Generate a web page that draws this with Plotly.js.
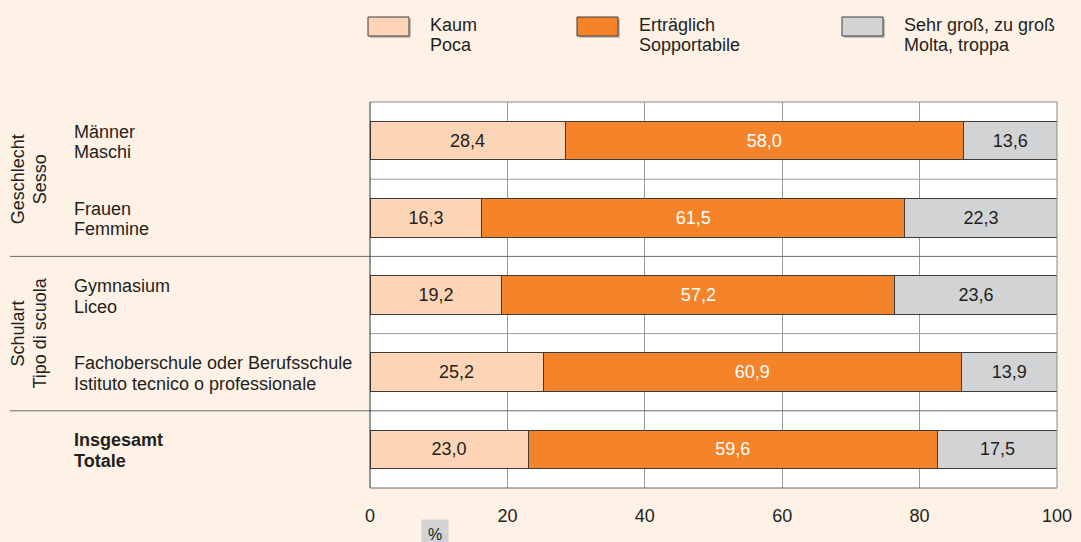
<!DOCTYPE html>
<html>
<head>
<meta charset="utf-8">
<script src="https://cdn.plot.ly/plotly-3.0.1.min.js"></script>
<style>
html,body{margin:0;padding:0;background:#fef1e6;}
#chart{width:1081px;height:542px;}
</style>
</head>
<body>
<div id="chart"></div>
<script>
// ---- data ----
var catDe = ['Männer', 'Frauen', 'Gymnasium', 'Fachoberschule oder Berufsschule', 'Insgesamt'];
var catIt = ['Maschi', 'Femmine', 'Liceo', 'Istituto tecnico o professionale', 'Totale'];
var catBold = [false, false, false, false, true];
var groupDe = ['Geschlecht', 'Schulart'];
var groupIt = ['Sesso', 'Tipo di scuola'];
var seriesDe = ['Kaum', 'Erträglich', 'Sehr groß, zu groß'];
var seriesIt = ['Poca', 'Sopportabile', 'Molta, troppa'];
var kaum = [28.4, 16.3, 19.2, 25.2, 23.0];
var ertraeglich = [58.0, 61.5, 57.2, 60.9, 59.6];
var sehrGross = [13.6, 22.3, 23.6, 13.9, 17.5];
var xTicks = [0, 20, 40, 60, 80, 100];
var unitLabel = '%';

// ---- styling ----
var colors = ['#fdd5b6', '#f5832a', '#d2d3d5'];
var textColors = ['#231f20', '#ffffff', '#231f20'];
var txt = '#231f20';
var FONT = '"Liberation Sans", Arial, Helvetica, sans-serif';

var W = 1081, H = 542;
var L = 370, R = 1057, T = 102, B = 488;
function px(x) { return (x - L) / (R - L); }
function py(y) { return (B - y) / (B - T); }

var idx = catDe.map(function (_, i) { return i; });
var values = [kaum, ertraeglich, sehrGross];

var traces = values.map(function (v, s) {
  return {
    type: 'bar',
    orientation: 'h',
    y: idx,
    x: v,
    name: seriesDe[s] + ' / ' + seriesIt[s],
    width: 0.5,
    marker: { color: colors[s], line: { color: '#3c3c3c', width: 1 } },
    texttemplate: '%{x:.1f}',
    textposition: 'inside',
    insidetextanchor: 'middle',
    constraintext: 'none',
    textfont: { family: FONT, size: 18, color: textColors[s] },
    hoverinfo: 'skip',
    showlegend: false
  };
});

var shapes = [];
var annotations = [];

// horizontal slot lines
for (var k = 0; k < catDe.length - 1; k++) {
  var yb = k + 0.5;
  var isGroupSep = (k === 1 || k === 3);
  shapes.push({
    type: 'line', xref: 'paper', yref: 'y',
    x0: isGroupSep ? px(10) : 0, x1: 1, y0: yb, y1: yb,
    line: { color: isGroupSep ? '#6a6a6a' : '#9a9a9a', width: 1 },
    layer: 'above'
  });
}
// frame
shapes.push({ type: 'line', xref: 'paper', yref: 'paper', x0: 0, x1: 1, y0: 1, y1: 1, line: { color: '#8a8a8a', width: 1 } });
shapes.push({ type: 'line', xref: 'paper', yref: 'paper', x0: 0, x1: 1, y0: 0, y1: 0, line: { color: '#6a6a6a', width: 1 } });
shapes.push({ type: 'line', xref: 'paper', yref: 'paper', x0: 1, x1: 1, y0: 0, y1: 1, line: { color: '#8a8a8a', width: 1 } });
shapes.push({ type: 'line', xref: 'paper', yref: 'paper', x0: 0, x1: 0, y0: 0, y1: 1, line: { color: '#333333', width: 1 } });

// category labels (one annotation per line for tight line spacing)
catDe.forEach(function (c, i) {
  var lines = [c, catIt[i]];
  var shifts = [9, -11.5];
  lines.forEach(function (ln, j) {
    annotations.push({
      xref: 'paper', yref: 'y', x: px(72), y: i, yshift: shifts[j],
      xanchor: 'left', yanchor: 'middle', align: 'left',
      text: catBold[i] ? '<b>' + ln + '</b>' : ln, showarrow: false,
      font: { family: FONT, size: 18, color: txt }
    });
  });
});

// group labels (rotated)
var groupCenters = [0.5, 2.5];
groupDe.forEach(function (g, i) {
  var lines = [g, groupIt[i]];
  var xs = [18, 40];
  lines.forEach(function (ln, j) {
    annotations.push({
      xref: 'paper', yref: 'y', x: px(xs[j]), y: groupCenters[i],
      xanchor: 'center', yanchor: 'middle', align: 'center',
      text: ln, textangle: -90, showarrow: false,
      font: { family: FONT, size: 18, color: txt }
    });
  });
});

// legend (manual)
var legX = [368, 577, 842];
seriesDe.forEach(function (s, i) {
  var x0 = legX[i], x1 = legX[i] + 41, y0 = 17, y1 = 36;
  shapes.push({ type: 'rect', xref: 'paper', yref: 'paper',
    x0: px(x0 + 2), x1: px(x1 + 2), y0: py(y1 + 2), y1: py(y0 + 2),
    fillcolor: '#a09a94', line: { width: 0 }, opacity: 0.6 });
  shapes.push({ type: 'rect', xref: 'paper', yref: 'paper',
    x0: px(x0), x1: px(x1), y0: py(y1), y1: py(y0),
    fillcolor: colors[i], line: { color: '#3c3c3c', width: 1 } });
  var lines = [s, seriesIt[i]];
  var ys = [25, 45];
  lines.forEach(function (ln, j) {
    annotations.push({
      xref: 'paper', yref: 'paper', x: px(x1 + 19), y: py(ys[j]),
      xanchor: 'left', yanchor: 'middle', align: 'left',
      text: ln, showarrow: false,
      font: { family: FONT, size: 18, color: txt }
    });
  });
});

// unit label box
annotations.push({
  xref: 'paper', yref: 'paper', x: px(434.5), y: py(519),
  xanchor: 'center', yanchor: 'top',
  text: unitLabel, showarrow: false,
  bgcolor: '#d2d3d5', borderpad: 6,
  font: { family: FONT, size: 16, color: txt }
});

var layout = {
  width: W, height: H,
  margin: { l: L, r: W - R, t: T, b: H - B, pad: 0 },
  paper_bgcolor: '#fef1e6',
  plot_bgcolor: '#ffffff',
  separators: ',.',
  barmode: 'stack',
  showlegend: false,
  font: { family: FONT, size: 18, color: txt },
  xaxis: {
    range: [0, 100], tickvals: xTicks, ticktext: xTicks.map(String),
    showgrid: true, gridcolor: '#9a9a9a', gridwidth: 1,
    zeroline: false, showline: false, ticks: '',
    ticklabelstandoff: 15,
    tickfont: { family: FONT, size: 18, color: txt },
    fixedrange: true
  },
  yaxis: {
    range: [catDe.length - 0.5, -0.5],
    showgrid: false, zeroline: false, showline: false,
    showticklabels: false, ticks: '', fixedrange: true
  },
  shapes: shapes,
  annotations: annotations
};

Plotly.newPlot('chart', traces, layout, { displayModeBar: false, staticPlot: true });
</script>
</body>
</html>
